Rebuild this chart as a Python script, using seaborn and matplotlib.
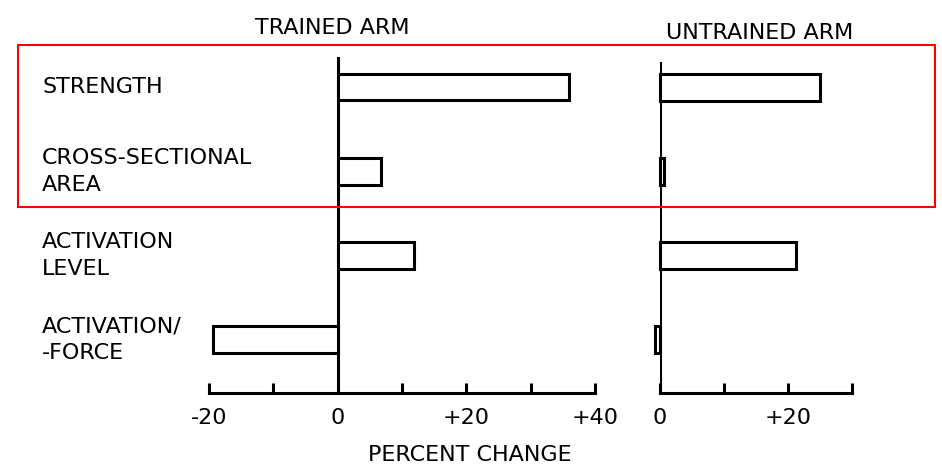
import matplotlib
matplotlib.use("Agg")
import matplotlib.pyplot as plt
import matplotlib.transforms as mtransforms
from matplotlib.patches import Rectangle
import pandas as pd
import seaborn as sns

sns.set_theme(style="white")
plt.rcParams['font.family'] = ['DejaVu Sans']
plt.rcParams['text.color'] = 'black'
plt.rcParams['xtick.color'] = 'black'

measures = ["STRENGTH", "CROSS-SECTIONAL\nAREA", "ACTIVATION\nLEVEL", "ACTIVATION/\n-FORCE"]
trained = [36.0, 6.8, 11.9, -19.4]
untrained = [25.0, 0.6, 21.3, -0.8]

trained_ticks = [-20, -10, 0, 10, 20, 30, 40]
trained_labels = ["-20", "", "0", "", "+20", "", "+40"]
untrained_ticks = [0, 10, 20, 30]
untrained_labels = ["0", "", "+20", ""]

df = pd.DataFrame({"measure": measures, "trained": trained, "untrained": untrained})

W, H = 942, 474
fig = plt.figure(figsize=(W / 100, H / 100), dpi=100)

def px_axes(x0, x1, y0, y1):
    return fig.add_axes([x0 / W, 1 - y1 / H, (x1 - x0) / W, (y1 - y0) / H])

ax1 = px_axes(209, 595, 57, 393)
ax2 = px_axes(660, 852, 62, 393)

lw = 2.2
for ax, col, lim, ticks, labels, ytop in [
    (ax1, "trained", (-20, 40), trained_ticks, trained_labels, -0.356),
    (ax2, "untrained", (0, 30), untrained_ticks, untrained_labels, -0.297),
]:
    sns.barplot(data=df, x=col, y="measure", orient="h", ax=ax,
                color="white", edgecolor="black", linewidth=lw, width=0.32,
                saturation=1)
    for p in ax.patches:
        p.set_clip_on(False)  # tiny negative bar sits just left of the untrained axis
    ax.set_xlim(*lim)
    ax.set_ylim(3.63, ytop)
    ax.axvline(0, color="black", lw=lw, zorder=0)
    for s in ["top", "right", "left"]:
        ax.spines[s].set_visible(False)
    ax.spines["bottom"].set_color("black")
    ax.spines["bottom"].set_linewidth(lw)
    ax.set_xticks(ticks)
    ax.set_xticklabels(labels)
    ax.tick_params(axis="x", direction="in", length=7, width=lw, color="black",
                   pad=11, labelsize=16, bottom=True)
    ax.set_yticks([])
    ax.set_xlabel("")
    ax.set_ylabel("")
    ax.patch.set_alpha(0)

# row labels at the left margin, aligned to the bar rows
trans = mtransforms.blended_transform_factory(fig.transFigure, ax1.transData)
for i, m in enumerate(measures):
    ax1.text(42 / W, i, m, transform=trans, ha="left", va="center",
             fontsize=16, linespacing=1.4)

fig.text(332 / W, 1 - 28 / H, "TRAINED ARM", ha="center", va="center", fontsize=16)
fig.text(760 / W, 1 - 33 / H, "UNTRAINED ARM", ha="center", va="center", fontsize=16)
fig.text(470 / W, 1 - 455 / H, "PERCENT CHANGE", ha="center", va="center", fontsize=16)

fig.patches.append(Rectangle((18 / W, 1 - 207 / H), (935 - 18) / W, (207 - 45) / H,
                             transform=fig.transFigure, fill=False,
                             edgecolor="red", linewidth=1.5))

fig.savefig("out.png", dpi=100)
